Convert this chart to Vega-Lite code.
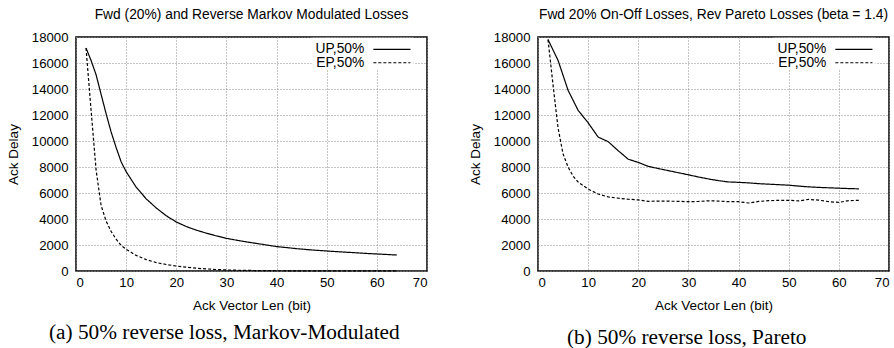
{
  "$schema": "https://vega.github.io/schema/vega-lite/v6.json",
  "padding": {"left": 5, "top": 7, "right": 0, "bottom": 0},
  "background": "white",
  "spacing": 39,
  "config": {
    "font": "Liberation Sans",
    "view": {"stroke": "black", "strokeWidth": 1.5},
    "axis": {
      "grid": true,
      "gridColor": "#8c8c8c",
      "gridDash": [1, 2],
      "gridWidth": 1,
      "domain": false,
      "ticks": false,
      "labelFont": "Liberation Sans",
      "labelFontSize": 13.2,
      "labelColor": "black",
      "titleFont": "Liberation Sans",
      "titleFontSize": 13.5,
      "titleFontWeight": "normal",
      "titleColor": "black"
    },
    "text": {"font": "Liberation Sans", "fontSize": 13.8, "color": "black", "align": "right", "baseline": "middle"},
    "title": {
      "font": "Liberation Sans",
      "fontSize": 13.8,
      "fontWeight": "normal",
      "color": "black",
      "anchor": "middle"
    }
  },
  "datasets": {
    "markov": [
      {"len": 2, "delay": 17150, "series": "UP,50%"},
      {"len": 3, "delay": 16200, "series": "UP,50%"},
      {"len": 4, "delay": 15100, "series": "UP,50%"},
      {"len": 5, "delay": 13600, "series": "UP,50%"},
      {"len": 6, "delay": 12100, "series": "UP,50%"},
      {"len": 7, "delay": 10700, "series": "UP,50%"},
      {"len": 8, "delay": 9500, "series": "UP,50%"},
      {"len": 9, "delay": 8400, "series": "UP,50%"},
      {"len": 10, "delay": 7640, "series": "UP,50%"},
      {"len": 12, "delay": 6450, "series": "UP,50%"},
      {"len": 14, "delay": 5550, "series": "UP,50%"},
      {"len": 16, "delay": 4850, "series": "UP,50%"},
      {"len": 18, "delay": 4250, "series": "UP,50%"},
      {"len": 20, "delay": 3770, "series": "UP,50%"},
      {"len": 22, "delay": 3420, "series": "UP,50%"},
      {"len": 24, "delay": 3140, "series": "UP,50%"},
      {"len": 26, "delay": 2910, "series": "UP,50%"},
      {"len": 28, "delay": 2700, "series": "UP,50%"},
      {"len": 30, "delay": 2515, "series": "UP,50%"},
      {"len": 32, "delay": 2370, "series": "UP,50%"},
      {"len": 34, "delay": 2240, "series": "UP,50%"},
      {"len": 36, "delay": 2120, "series": "UP,50%"},
      {"len": 38, "delay": 2000, "series": "UP,50%"},
      {"len": 40, "delay": 1880, "series": "UP,50%"},
      {"len": 42, "delay": 1800, "series": "UP,50%"},
      {"len": 44, "delay": 1720, "series": "UP,50%"},
      {"len": 46, "delay": 1650, "series": "UP,50%"},
      {"len": 48, "delay": 1590, "series": "UP,50%"},
      {"len": 50, "delay": 1540, "series": "UP,50%"},
      {"len": 52, "delay": 1490, "series": "UP,50%"},
      {"len": 54, "delay": 1440, "series": "UP,50%"},
      {"len": 56, "delay": 1400, "series": "UP,50%"},
      {"len": 58, "delay": 1350, "series": "UP,50%"},
      {"len": 60, "delay": 1310, "series": "UP,50%"},
      {"len": 62, "delay": 1270, "series": "UP,50%"},
      {"len": 64, "delay": 1230, "series": "UP,50%"},
      {"len": 2, "delay": 17150, "series": "EP,50%"},
      {"len": 3, "delay": 12400, "series": "EP,50%"},
      {"len": 4, "delay": 7800, "series": "EP,50%"},
      {"len": 5, "delay": 5050, "series": "EP,50%"},
      {"len": 6, "delay": 3850, "series": "EP,50%"},
      {"len": 7, "delay": 3050, "series": "EP,50%"},
      {"len": 8, "delay": 2450, "series": "EP,50%"},
      {"len": 9, "delay": 1970, "series": "EP,50%"},
      {"len": 10, "delay": 1670, "series": "EP,50%"},
      {"len": 12, "delay": 1200, "series": "EP,50%"},
      {"len": 14, "delay": 880, "series": "EP,50%"},
      {"len": 16, "delay": 650, "series": "EP,50%"},
      {"len": 18, "delay": 500, "series": "EP,50%"},
      {"len": 20, "delay": 385, "series": "EP,50%"},
      {"len": 22, "delay": 290, "series": "EP,50%"},
      {"len": 24, "delay": 215, "series": "EP,50%"},
      {"len": 26, "delay": 160, "series": "EP,50%"},
      {"len": 28, "delay": 115, "series": "EP,50%"},
      {"len": 30, "delay": 80, "series": "EP,50%"},
      {"len": 32, "delay": 60, "series": "EP,50%"},
      {"len": 34, "delay": 45, "series": "EP,50%"},
      {"len": 36, "delay": 35, "series": "EP,50%"},
      {"len": 38, "delay": 25, "series": "EP,50%"},
      {"len": 40, "delay": 20, "series": "EP,50%"},
      {"len": 44, "delay": 12, "series": "EP,50%"},
      {"len": 48, "delay": 8, "series": "EP,50%"},
      {"len": 52, "delay": 5, "series": "EP,50%"},
      {"len": 56, "delay": 4, "series": "EP,50%"},
      {"len": 60, "delay": 3, "series": "EP,50%"},
      {"len": 64, "delay": 2, "series": "EP,50%"}
    ],
    "pareto": [
      {"len": 2, "delay": 17800, "series": "UP,50%"},
      {"len": 4, "delay": 16200, "series": "UP,50%"},
      {"len": 6, "delay": 13900, "series": "UP,50%"},
      {"len": 8, "delay": 12360, "series": "UP,50%"},
      {"len": 10, "delay": 11400, "series": "UP,50%"},
      {"len": 12, "delay": 10300, "series": "UP,50%"},
      {"len": 14, "delay": 9950, "series": "UP,50%"},
      {"len": 16, "delay": 9250, "series": "UP,50%"},
      {"len": 18, "delay": 8600, "series": "UP,50%"},
      {"len": 20, "delay": 8350, "series": "UP,50%"},
      {"len": 22, "delay": 8050, "series": "UP,50%"},
      {"len": 24, "delay": 7880, "series": "UP,50%"},
      {"len": 26, "delay": 7720, "series": "UP,50%"},
      {"len": 28, "delay": 7560, "series": "UP,50%"},
      {"len": 30, "delay": 7400, "series": "UP,50%"},
      {"len": 32, "delay": 7230, "series": "UP,50%"},
      {"len": 34, "delay": 7080, "series": "UP,50%"},
      {"len": 36, "delay": 6950, "series": "UP,50%"},
      {"len": 38, "delay": 6850, "series": "UP,50%"},
      {"len": 40, "delay": 6820, "series": "UP,50%"},
      {"len": 42, "delay": 6780, "series": "UP,50%"},
      {"len": 44, "delay": 6720, "series": "UP,50%"},
      {"len": 46, "delay": 6680, "series": "UP,50%"},
      {"len": 48, "delay": 6640, "series": "UP,50%"},
      {"len": 50, "delay": 6600, "series": "UP,50%"},
      {"len": 52, "delay": 6530, "series": "UP,50%"},
      {"len": 54, "delay": 6470, "series": "UP,50%"},
      {"len": 56, "delay": 6430, "series": "UP,50%"},
      {"len": 58, "delay": 6400, "series": "UP,50%"},
      {"len": 60, "delay": 6370, "series": "UP,50%"},
      {"len": 62, "delay": 6340, "series": "UP,50%"},
      {"len": 64, "delay": 6320, "series": "UP,50%"},
      {"len": 2, "delay": 17800, "series": "EP,50%"},
      {"len": 3, "delay": 14300, "series": "EP,50%"},
      {"len": 4, "delay": 11000, "series": "EP,50%"},
      {"len": 5, "delay": 9000, "series": "EP,50%"},
      {"len": 6, "delay": 8000, "series": "EP,50%"},
      {"len": 7, "delay": 7300, "series": "EP,50%"},
      {"len": 8, "delay": 6850, "series": "EP,50%"},
      {"len": 10, "delay": 6300, "series": "EP,50%"},
      {"len": 12, "delay": 5920, "series": "EP,50%"},
      {"len": 14, "delay": 5700, "series": "EP,50%"},
      {"len": 16, "delay": 5600, "series": "EP,50%"},
      {"len": 18, "delay": 5520, "series": "EP,50%"},
      {"len": 20, "delay": 5470, "series": "EP,50%"},
      {"len": 22, "delay": 5360, "series": "EP,50%"},
      {"len": 24, "delay": 5380, "series": "EP,50%"},
      {"len": 26, "delay": 5370, "series": "EP,50%"},
      {"len": 28, "delay": 5360, "series": "EP,50%"},
      {"len": 30, "delay": 5330, "series": "EP,50%"},
      {"len": 32, "delay": 5350, "series": "EP,50%"},
      {"len": 34, "delay": 5400, "series": "EP,50%"},
      {"len": 36, "delay": 5380, "series": "EP,50%"},
      {"len": 38, "delay": 5330, "series": "EP,50%"},
      {"len": 40, "delay": 5330, "series": "EP,50%"},
      {"len": 42, "delay": 5230, "series": "EP,50%"},
      {"len": 44, "delay": 5350, "series": "EP,50%"},
      {"len": 46, "delay": 5410, "series": "EP,50%"},
      {"len": 48, "delay": 5430, "series": "EP,50%"},
      {"len": 50, "delay": 5440, "series": "EP,50%"},
      {"len": 52, "delay": 5390, "series": "EP,50%"},
      {"len": 54, "delay": 5510, "series": "EP,50%"},
      {"len": 56, "delay": 5450, "series": "EP,50%"},
      {"len": 58, "delay": 5330, "series": "EP,50%"},
      {"len": 60, "delay": 5280, "series": "EP,50%"},
      {"len": 62, "delay": 5410, "series": "EP,50%"},
      {"len": 64, "delay": 5440, "series": "EP,50%"}
    ]
  },
  "hconcat": [
    {
      "title": {"text": "(a) 50% reverse loss, Markov-Modulated", "orient": "bottom", "anchor": "start", "dx": -27, "font": "Liberation Serif", "fontSize": 21.3, "offset": 10, "frame": "group"},
      "vconcat": [
        {
          "title": {"text": "Fwd (20%) and Reverse Markov Modulated Losses", "frame": "group", "offset": 8},
          "width": 351,
          "height": 234,
          "data": {"name": "markov"},
          "encoding": {
            "x": {"field": "len", "type": "quantitative", "title": "Ack Vector Len (bit)", "scale": {"domain": [0, 70], "nice": false}, "axis": {"values": [0, 10, 20, 30, 40, 50, 60, 70], "labelPadding": 5, "titlePadding": 10}},
            "y": {"field": "delay", "type": "quantitative", "title": "Ack Delay", "scale": {"domain": [0, 18000], "nice": false}, "axis": {"values": [0, 2000, 4000, 6000, 8000, 10000, 12000, 14000, 16000, 18000], "format": "d", "labelPadding": 8, "titlePadding": 11}}
          },
          "layer": [
            {
              "mark": {"type": "line", "color": "black", "strokeWidth": 1.2},
              "encoding": {
                "strokeDash": {"field": "series", "type": "nominal", "scale": {"domain": ["UP,50%", "EP,50%"], "range": [[1, 0], [3, 2]]}, "legend": null},
                "order": {"field": "len", "type": "quantitative"}
              }
            },
            {
              "transform": [{"filter": "datum.len == 2 && datum.series == 'UP,50%'"}],
              "mark": {"type": "rect", "fill": "white"},
              "encoding": {"x": {"datum": 47}, "x2": {"datum": 67.3}, "y": {"datum": 17950}, "y2": {"datum": 15550}}
            },
            {
              "transform": [{"filter": "datum.len == 2 && datum.series == 'UP,50%'"}],
              "mark": {"type": "text"},
              "encoding": {"x": {"datum": 57.5}, "y": {"datum": 17050}, "text": {"value": "UP,50%"}}
            },
            {
              "transform": [{"filter": "datum.len == 2 && datum.series == 'UP,50%'"}],
              "mark": {"type": "text"},
              "encoding": {"x": {"datum": 57.5}, "y": {"datum": 16020}, "text": {"value": "EP,50%"}}
            },
            {
              "transform": [{"filter": "datum.len == 2 && datum.series == 'UP,50%'"}],
              "mark": {"type": "rule", "color": "black", "strokeWidth": 1.2},
              "encoding": {"x": {"datum": 59.3}, "x2": {"datum": 66.7}, "y": {"datum": 17050}}
            },
            {
              "transform": [{"filter": "datum.len == 2 && datum.series == 'UP,50%'"}],
              "mark": {"type": "rule", "color": "black", "strokeWidth": 1.2, "strokeDash": [3, 2]},
              "encoding": {"x": {"datum": 59.3}, "x2": {"datum": 66.7}, "y": {"datum": 16020}}
            }
          ]
        }
      ]
    },
    {
      "title": {"text": "(b) 50% reverse loss, Pareto", "orient": "bottom", "anchor": "start", "dx": 29, "font": "Liberation Serif", "fontSize": 21.3, "offset": 15, "frame": "group"},
      "vconcat": [
        {
          "title": {"text": "Fwd 20% On-Off Losses, Rev Pareto Losses (beta = 1.4)", "frame": "group", "offset": 8},
          "width": 351,
          "height": 234,
          "data": {"name": "pareto"},
          "encoding": {
            "x": {"field": "len", "type": "quantitative", "title": "Ack Vector Len (bit)", "scale": {"domain": [0, 70], "nice": false}, "axis": {"values": [0, 10, 20, 30, 40, 50, 60, 70], "labelPadding": 5, "titlePadding": 10}},
            "y": {"field": "delay", "type": "quantitative", "title": "Ack Delay", "scale": {"domain": [0, 18000], "nice": false}, "axis": {"values": [0, 2000, 4000, 6000, 8000, 10000, 12000, 14000, 16000, 18000], "format": "d", "labelPadding": 8, "titlePadding": 11}}
          },
          "layer": [
            {
              "mark": {"type": "line", "color": "black", "strokeWidth": 1.2},
              "encoding": {
                "strokeDash": {"field": "series", "type": "nominal", "scale": {"domain": ["UP,50%", "EP,50%"], "range": [[1, 0], [3, 2]]}, "legend": null},
                "order": {"field": "len", "type": "quantitative"}
              }
            },
            {
              "transform": [{"filter": "datum.len == 2 && datum.series == 'UP,50%'"}],
              "mark": {"type": "rect", "fill": "white"},
              "encoding": {"x": {"datum": 47}, "x2": {"datum": 67.3}, "y": {"datum": 17950}, "y2": {"datum": 15550}}
            },
            {
              "transform": [{"filter": "datum.len == 2 && datum.series == 'UP,50%'"}],
              "mark": {"type": "text"},
              "encoding": {"x": {"datum": 57.5}, "y": {"datum": 17050}, "text": {"value": "UP,50%"}}
            },
            {
              "transform": [{"filter": "datum.len == 2 && datum.series == 'UP,50%'"}],
              "mark": {"type": "text"},
              "encoding": {"x": {"datum": 57.5}, "y": {"datum": 16020}, "text": {"value": "EP,50%"}}
            },
            {
              "transform": [{"filter": "datum.len == 2 && datum.series == 'UP,50%'"}],
              "mark": {"type": "rule", "color": "black", "strokeWidth": 1.2},
              "encoding": {"x": {"datum": 59.3}, "x2": {"datum": 66.7}, "y": {"datum": 17050}}
            },
            {
              "transform": [{"filter": "datum.len == 2 && datum.series == 'UP,50%'"}],
              "mark": {"type": "rule", "color": "black", "strokeWidth": 1.2, "strokeDash": [3, 2]},
              "encoding": {"x": {"datum": 59.3}, "x2": {"datum": 66.7}, "y": {"datum": 16020}}
            }
          ]
        }
      ]
    }
  ]
}
